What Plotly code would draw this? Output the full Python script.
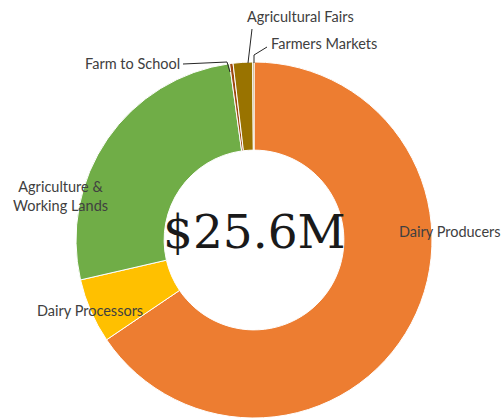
import plotly.graph_objects as go

# Data (millions of dollars)
categories = ["Dairy Producers", "Dairy Processors", "Agriculture & Working Lands",
              "Farm to School", "Agricultural Fairs", "Farmers Markets"]
values = [16.75, 1.50, 6.75, 0.08, 0.45, 0.03]
colors = ["#ED7D31", "#FFC000", "#70AD47", "#9E480E", "#997300", "#7F6000"]
total_label = "$25.6M"

W, H = 503, 419


def px(x, y):
    return x / W, 1 - y / H


x0, y0 = px(76, 418)
x1, y1 = px(432, 62)
fig = go.Figure(go.Pie(
    labels=categories, values=values, sort=False, direction="clockwise", rotation=0,
    hole=0.505, textinfo="none", hoverinfo="label+value",
    marker=dict(colors=colors, line=dict(color="white", width=1)),
    domain=dict(x=[x0, x1], y=[max(0, y0), y1]),
    showlegend=False,
))

font = dict(family="Lato, 'Open Sans', sans-serif", size=14.5, color="#404040")
ann = []


def label(text, x, y, align="center"):
    xp, yp = px(x, y)
    ann.append(dict(text=text, x=xp, y=yp, xref="paper", yref="paper", showarrow=False,
                    font=font, align=align, xanchor="center", yanchor="middle"))


label("Dairy Producers", 450, 232)
label("Dairy Processors", 90, 310)
label("Agriculture &<br>Working Lands", 60, 196)
label("Farm to School", 132, 63)
label("Agricultural Fairs", 300, 16)
label("Farmers Markets", 324, 44)

cx, cy = px(254, 232)
ann.append(dict(text=total_label, x=cx, y=cy, xref="paper", yref="paper", showarrow=False,
                font=dict(family="DejaVu Serif, serif", size=47, color="#1a1a1a"),
                xanchor="center", yanchor="middle"))

shapes = []


def polyline(points):
    p = [px(x, y) for x, y in points]
    path = "M " + " L ".join(f"{a},{b}" for a, b in p)
    shapes.append(dict(type="path", path=path, xref="paper", yref="paper",
                       line=dict(color="#262626", width=1)))


polyline([(183, 64), (227, 62), (230, 72)])
polyline([(252, 29), (248, 63)])
polyline([(267, 47), (254, 55), (254, 63)])

fig.update_layout(width=W, height=H, margin=dict(l=0, r=0, t=0, b=0),
                  paper_bgcolor="white", plot_bgcolor="white",
                  annotations=ann, shapes=shapes)
fig.write_html("out.html", config={"displayModeBar": False},
               post_script="document.body.style.margin='0';document.body.style.overflow='hidden';")
